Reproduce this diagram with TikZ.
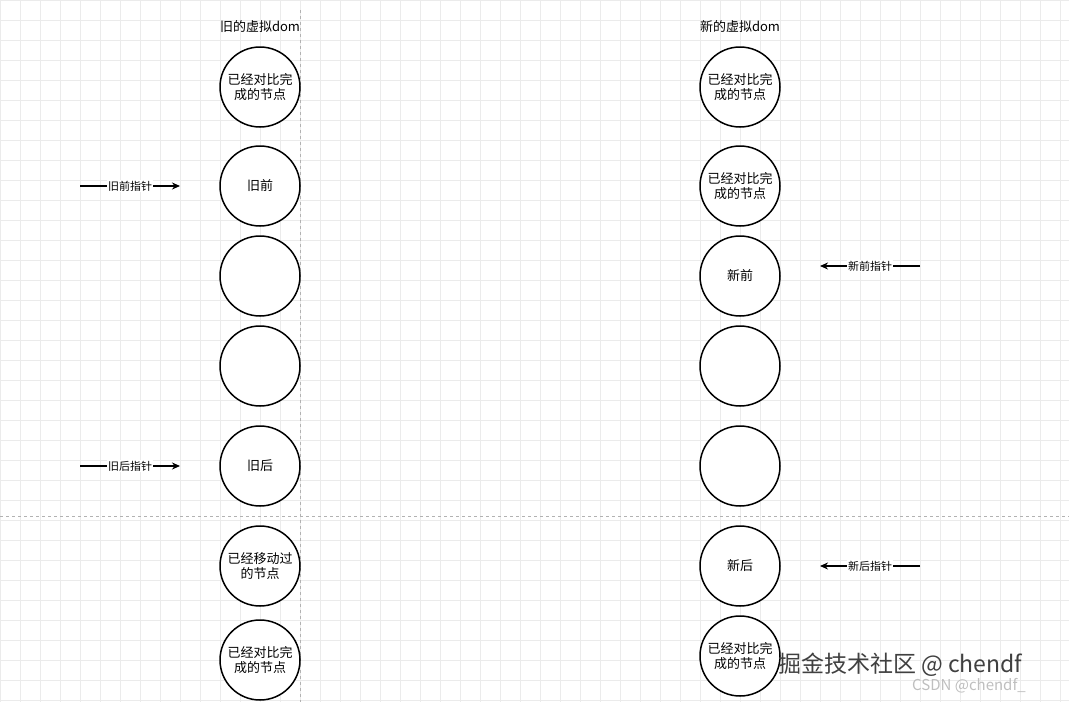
\documentclass[tikz,border=0pt]{standalone}
\usepackage{fontspec}
\newfontfamily\cjk{Noto Sans CJK SC}
\usetikzlibrary{arrows.meta}
\begin{document}
\begin{tikzpicture}[x=1pt,y=-1pt,
  nd/.style={circle,draw,line width=1.5pt,minimum size=80pt,inner sep=0pt,align=center,font=\cjk\fontsize{13}{15.5}\selectfont},
  ptr/.style={line width=1.5pt,-{Stealth[length=8pt,width=7pt]}},
  lab/.style={fill=white,inner sep=1pt,font=\cjk\fontsize{11}{13}\selectfont},
  ttl/.style={font=\cjk\fontsize{13}{15}\selectfont}]
\useasboundingbox (0,0) rectangle (1069,702);
\fill[white] (0,0) rectangle (1069,702);
\foreach \i in {0,20,...,1060} \draw[black!8,line width=0.5pt] (\i,0) -- (\i,702);
\foreach \j in {0,20,...,700} \draw[black!8,line width=0.5pt] (0,\j) -- (1069,\j);
\draw[black!30,dashed,line width=0.6pt] (300,10) -- (300,702);
\draw[black!30,dashed,line width=0.6pt] (0,516) -- (1069,516);
\node[ttl] (t1) at (260,27) {旧的虚拟dom};
\node[ttl] (t2) at (740,27) {新的虚拟dom};
\node[nd,fill=white] (a1) at (260,87) {已经对比完\\成的节点};
\node[nd,fill=white] (a2) at (260,186) {旧前};
\node[nd,fill=white] (a3) at (260,276) {};
\node[nd,fill=white] (a4) at (260,366) {};
\node[nd,fill=white] (a5) at (260,466) {旧后};
\node[nd,fill=white] (a6) at (260,566) {已经移动过\\的节点};
\node[nd,fill=white] (a7) at (260,660) {已经对比完\\成的节点};
\node[nd,fill=white] (b1) at (740,87) {已经对比完\\成的节点};
\node[nd,fill=white] (b2) at (740,186) {已经对比完\\成的节点};
\node[nd,fill=white] (b3) at (740,276) {新前};
\node[nd,fill=white] (b4) at (740,366) {};
\node[nd,fill=white] (b5) at (740,466) {};
\node[nd,fill=white] (b6) at (740,566) {新后};
\node[nd,fill=white] (b7) at (740,656) {已经对比完\\成的节点};
\coordinate (p1s) at (80,186); \coordinate (p1e) at (180,186);
\coordinate (p2s) at (80,466); \coordinate (p2e) at (180,466);
\coordinate (p3s) at (920,266); \coordinate (p3e) at (820,266);
\coordinate (p4s) at (920,566); \coordinate (p4e) at (820,566);
\draw[ptr] (p1s) -- node[lab]{旧前指针} (p1e);
\draw[ptr] (p2s) -- node[lab]{旧后指针} (p2e);
\draw[ptr] (p3s) -- node[lab]{新前指针} (p3e);
\draw[ptr] (p4s) -- node[lab]{新后指针} (p4e);
\node[font=\cjk\fontsize{23}{26}\selectfont,text=black!75,anchor=west,inner sep=0pt] (w1) at (778,665) {掘金技术社区 @ chendf};
\node[font=\cjk\fontsize{15}{17}\selectfont,text=black!25,anchor=west,inner sep=0pt] (w2) at (912,686) {CSDN @chendf\_};
\end{tikzpicture}
\end{document}
